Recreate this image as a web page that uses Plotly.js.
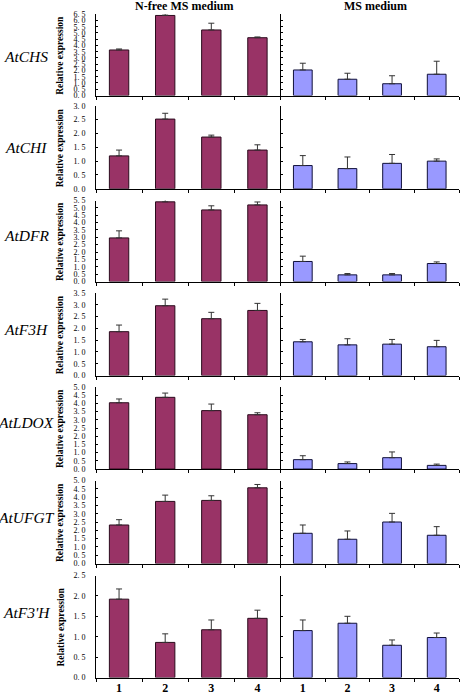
<!DOCTYPE html>
<html><head><meta charset="utf-8">
<script src="https://cdn.plot.ly/plotly-3.0.1.min.js"></script>
<style>html,body{margin:0;padding:0;background:#fff}#chart{width:462px;height:695px}</style>
</head><body><div id="chart"></div>
<script>
const genes = ['AtCHS', 'AtCHI', 'AtDFR', 'AtF3H', 'AtLDOX', 'AtUFGT', "AtF3'H"];
const categories = ['1', '2', '3', '4'];
const yMax = [6.5, 3.0, 5.5, 3.5, 5.0, 5.0, 2.5];
const tickStep = 0.5;
const leftTitle = 'N-free MS medium';
const rightTitle = 'MS medium';
const yTitle = 'Relative expression';

const nfreeValues = [
  [3.64, 6.40, 5.24, 4.62],
  [1.19, 2.52, 1.87, 1.40],
  [2.96, 5.41, 4.86, 5.20],
  [1.86, 2.96, 2.41, 2.76],
  [4.04, 4.37, 3.56, 3.31],
  [2.32, 3.74, 3.80, 4.56],
  [1.92, 0.86, 1.17, 1.45]
];
const nfreeErrors = [
  [0.08, 0.12, 0.54, 0.06],
  [0.21, 0.21, 0.07, 0.19],
  [0.48, 0.34, 0.28, 0.20],
  [0.28, 0.28, 0.27, 0.30],
  [0.23, 0.26, 0.40, 0.12],
  [0.32, 0.38, 0.28, 0.20],
  [0.25, 0.21, 0.24, 0.20]
];
const msValues = [
  [2.04, 1.30, 0.94, 1.70],
  [0.84, 0.73, 0.92, 1.00],
  [1.36, 0.45, 0.45, 1.22],
  [1.43, 1.30, 1.33, 1.22],
  [0.57, 0.33, 0.69, 0.22],
  [1.82, 1.46, 2.50, 1.70],
  [1.15, 1.33, 0.79, 0.98]
];
const msErrors = [
  [0.54, 0.48, 0.64, 1.04],
  [0.36, 0.42, 0.32, 0.08],
  [0.36, 0.09, 0.09, 0.11],
  [0.10, 0.26, 0.20, 0.27],
  [0.24, 0.10, 0.35, 0.08],
  [0.50, 0.50, 0.52, 0.52],
  [0.26, 0.17, 0.13, 0.11]
];

// layout geometry (pixels)
const W = 462, H = 695;
const panelTop = [14.2, 105.8, 200.5, 293, 387, 480.5, 575.5];
const panelBot = [95.5, 188.8, 281.5, 375.5, 469, 563.5, 677.5];
const geneLabelY = [57, 147, 235, 330, 422, 517, 612];
const xLeft = 96, xMid = 280.5, xRight = 459;
const serif = 'Liberation Serif';

const data = [];
const layout = {
  width: W, height: H,
  margin: {l: 0, r: 0, t: 0, b: 0},
  paper_bgcolor: '#fff', plot_bgcolor: 'rgba(0,0,0,0)',
  showlegend: false,
  bargap: 0.58,
  annotations: []
};

function yTicks(max) {
  const vals = [], txt = [];
  for (let v = 0; v <= max + 1e-9; v += tickStep) {
    const r = Math.round(v * 10) / 10;
    vals.push(r);
    txt.push(r.toFixed(1).replace('.', '. '));
  }
  return {vals, txt};
}

for (let p = 0; p < genes.length; p++) {
  const yDom = [1 - panelBot[p] / H, 1 - panelTop[p] / H];
  const ticks = yTicks(yMax[p]);
  const last = p === genes.length - 1;
  for (let s = 0; s < 2; s++) {
    const k = p * 2 + s + 1;
    const xa = 'x' + k, ya = 'y' + k;
    const vals = s === 0 ? nfreeValues[p] : msValues[p];
    const errs = s === 0 ? nfreeErrors[p] : msErrors[p];
    data.push({
      type: 'bar', x: categories, y: vals, xaxis: xa, yaxis: ya,
      marker: {color: s === 0 ? '#993366' : '#9999FF', line: {color: s === 0 ? '#2b0b1d' : '#10103a', width: 1}},
      error_y: {type: 'data', symmetric: false, array: errs, arrayminus: errs.map(() => 0),
                color: '#333333', thickness: 1, width: 3},
      cliponaxis: false,
      hoverinfo: 'skip'
    });
    layout['xaxis' + k] = {
      domain: s === 0 ? [xLeft / W, xMid / W] : [xMid / W, xRight / W],
      anchor: ya, type: 'category', range: [-0.5, 3.5],
      showline: true, linecolor: '#000', linewidth: 1,
      ticks: 'outside', tickson: 'boundaries', ticklen: 3, tickcolor: '#000', tickwidth: 1,
      showgrid: false, zeroline: false, fixedrange: true,
      showticklabels: last, ticklabelstandoff: -1,
      tickfont: {family: serif, size: 12, color: '#000', weight: 'bold'}
    };
    layout['yaxis' + k] = {
      domain: yDom, anchor: xa, range: [0, yMax[p]],
      showline: true, linecolor: '#000', linewidth: 1,
      ticks: 'inside', ticklen: 2, tickcolor: '#000',
      tickmode: 'array', tickvals: ticks.vals, ticktext: ticks.txt,
      showticklabels: s === 0, ticklabelstandoff: 8,
      tickfont: {family: serif, size: 8, color: '#000'},
      showgrid: false, zeroline: false, fixedrange: true
    };
  }
  layout.annotations.push({
    xref: 'paper', yref: 'paper', x: 26 / W, y: 1 - geneLabelY[p] / H,
    xanchor: 'center', yanchor: 'middle', showarrow: false,
    text: '<i>' + genes[p] + '</i>',
    font: {family: serif, size: 15.5, color: '#000'}
  });
  layout.annotations.push({
    xref: 'paper', yref: 'paper', x: 60 / W, y: 1 - (panelTop[p] + panelBot[p]) / 2 / H,
    xanchor: 'center', yanchor: 'middle', showarrow: false, textangle: -90,
    text: '<b>' + yTitle + '</b>',
    font: {family: serif, size: 9.5, color: '#000'}
  });
}
layout.annotations.push({
  xref: 'paper', yref: 'paper', x: 184 / W, y: 1 - 6 / H,
  xanchor: 'center', yanchor: 'middle', showarrow: false,
  text: '<b>' + leftTitle + '</b>', font: {family: serif, size: 12, color: '#000'}
});
layout.annotations.push({
  xref: 'paper', yref: 'paper', x: 375 / W, y: 1 - 6 / H,
  xanchor: 'center', yanchor: 'middle', showarrow: false,
  text: '<b>' + rightTitle + '</b>', font: {family: serif, size: 12, color: '#000'}
});

Plotly.newPlot('chart', data, layout, {displayModeBar: false, staticPlot: true});
</script>
</body></html>
